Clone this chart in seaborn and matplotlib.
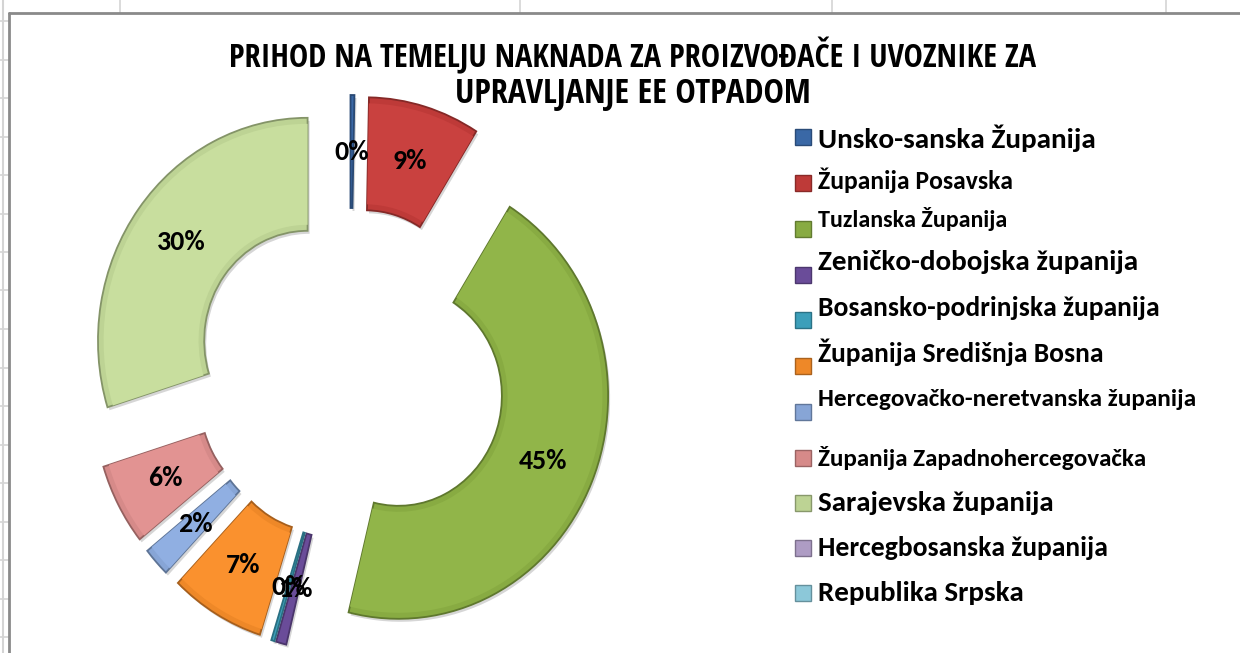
import matplotlib
matplotlib.use("Agg")
import matplotlib.pyplot as plt
import matplotlib.patches as mpatches
import matplotlib.transforms as mtransforms
import matplotlib.colors as mcolors
from matplotlib import font_manager as fm
import seaborn as sns
import numpy as np

# ---------------- data ----------------
categories = [
    "Unsko-sanska Županija",
    "Županija Posavska",
    "Tuzlanska Županija",
    "Zeničko-dobojska županija",
    "Bosansko-podrinjska županija",
    "Županija Središnja Bosna",
    "Hercegovačko-neretvanska županija",
    "Županija Zapadnohercegovačka",
    "Sarajevska županija",
    "Hercegbosanska županija",
    "Republika Srpska",
]
values = [0.3, 8.6, 44.9, 0.8, 0.25, 7.3, 2.1, 5.9, 29.8, 0.0, 0.0]
title_lines = ["PRIHOD NA TEMELJU NAKNADA ZA PROIZVOĐAČE I UVOZNIKE ZA",
               "UPRAVLJANJE EE OTPADOM"]

colors = ["#3A68A6", "#BE3A38", "#88AB42", "#6A4C99", "#3C9FBA", "#EE8828",
          "#87A5D6", "#D68A89", "#BDD394", "#AE9CC4", "#8CC8D9"]

# ---------------- style ----------------
sns.set_theme(style="white")
available = {f.name for f in fm.fontManager.ttflist}


def pick(cands):
    for c in cands:
        if c in available:
            return c
    return "DejaVu Sans"


BODY = pick(["Carlito", "Lato", "Open Sans"])
TITLE = pick(["Open Sans Condensed", "Carlito", "Lato"])
plt.rcParams["font.family"] = [BODY, "DejaVu Sans"]
WEIGHT = "bold" if BODY == "Carlito" else "heavy"

W, H = 1240, 653
fig = plt.figure(figsize=(W / 100, H / 100), dpi=100)
fig.patch.set_facecolor("white")

# spreadsheet background lines
grid_c = "#d4d4d4"
for gx in [120, 520, 832, 1166]:
    fig.add_artist(plt.Line2D([gx / W, gx / W], [1, 1 - 13 / H], color=grid_c, lw=1.2,
                              transform=fig.transFigure))
fig.add_artist(plt.Line2D([3 / W, 3 / W], [0, 1], color=grid_c, lw=1.5, transform=fig.transFigure))
for gy in np.arange(21, H, 38.5):
    fig.add_artist(plt.Line2D([0, 9 / W], [1 - gy / H, 1 - gy / H], color=grid_c, lw=1.2,
                              transform=fig.transFigure))
# chart border
fig.add_artist(plt.Line2D([9 / W, 1], [1 - 13 / H, 1 - 13 / H], color="#8a8a8a", lw=2,
                          transform=fig.transFigure))
fig.add_artist(plt.Line2D([9 / W, 9 / W], [0, 1 - 13 / H], color="#8a8a8a", lw=2,
                          transform=fig.transFigure))

# ---------------- doughnut ----------------
SX = 0.94          # horizontal squeeze of the screenshot
R = 223.0
RING = 113.0
EXP = 56.0
cx, cy = 350.0 / SX, H - 374.0

ax = fig.add_axes([0, 0, 1, 1])
wedges, texts, autotexts = ax.pie(
    values,
    colors=colors,
    startangle=90,
    counterclock=False,
    radius=R,
    center=(cx, cy),
    explode=[EXP] * len(values),
    autopct=lambda p: (f"{p:.0f}%" if p > 0 else ""),
    pctdistance=(R - RING / 2) / R,
    wedgeprops=dict(width=RING, linewidth=1.3),
    textprops=dict(fontsize=17, fontweight=WEIGHT, color="black"),
    normalize=True,
)
ax.set_aspect("auto")
ax.set_xlim(0, W / SX)
ax.set_ylim(0, H)
ax.axis("off")

shadow_tr = mtransforms.offset_copy(ax.transData, fig=fig, x=2, y=-3, units="dots")
for w, v, c in zip(wedges, values, colors):
    if v <= 0:
        w.set_visible(False)
        continue
    base = np.array(mcolors.to_rgb(c))
    w.set_edgecolor(base * 0.7)
    w.set_zorder(3)
    sh = mpatches.Wedge(w.center, w.r, w.theta1, w.theta2, width=w.width,
                        transform=shadow_tr, facecolor="#000000", alpha=0.16,
                        edgecolor="none", zorder=2)
    ax.add_patch(sh)
    if (w.theta2 - w.theta1) > 3:
        hl = mpatches.Wedge(w.center, w.r - 6, w.theta1, w.theta2,
                            width=max(w.width - 12, 1),
                            facecolor=np.clip(base * 1.03 + 0.02, 0, 1),
                            edgecolor="none", zorder=3.5)
        ax.add_patch(hl)

for t in autotexts:
    t.set_zorder(6)

fig.canvas.draw()
renderer = fig.canvas.get_renderer()

# fit label font size to reference width of "45%"
ref = autotexts[2]
bw = ref.get_window_extent(renderer).width
fs = ref.get_fontsize() * 48.5 / bw
for t in autotexts:
    t.set_fontsize(fs)


def fit_text(x, y, s, target_w, ha="left", fs0=20, family=None, weight=WEIGHT):
    kw = {}
    if family:
        kw["family"] = [family, "DejaVu Sans"]
    t = fig.text(x / W, 1 - y / H, s, fontsize=fs0, ha=ha, va="center",
                 fontweight=weight, color="black", **kw)
    bb = t.get_window_extent(renderer)
    t.set_fontsize(fs0 * target_w / bb.width)
    return t


# title
fit_text(633, 57, title_lines[0], 810, ha="center", family=TITLE, weight="bold")
fit_text(632.5, 94, title_lines[1], 356, ha="center", family=TITLE, weight="bold")

# legend
text_y = [138, 180, 219, 262, 308, 352, 400, 458, 503, 548, 593]
mark_y = [137, 183, 229, 275, 320, 366, 412, 458, 503, 548, 593]
text_w = [279, 195, 189, 322, 342, 286, 378, 329, 237, 290, 207]
for name, c, ty, my, tw_ in zip(categories, colors, text_y, mark_y, text_w):
    fit_text(818, ty, name, tw_)
    sz = 16
    base = np.array(mcolors.to_rgb(c))
    rect = mpatches.Rectangle((795 / W, 1 - (my + sz / 2) / H), sz / W, sz / H,
                              transform=fig.transFigure, facecolor=c, edgecolor=base * 0.72,
                              linewidth=1)
    fig.add_artist(rect)

fig.savefig("out.png", dpi=100)
